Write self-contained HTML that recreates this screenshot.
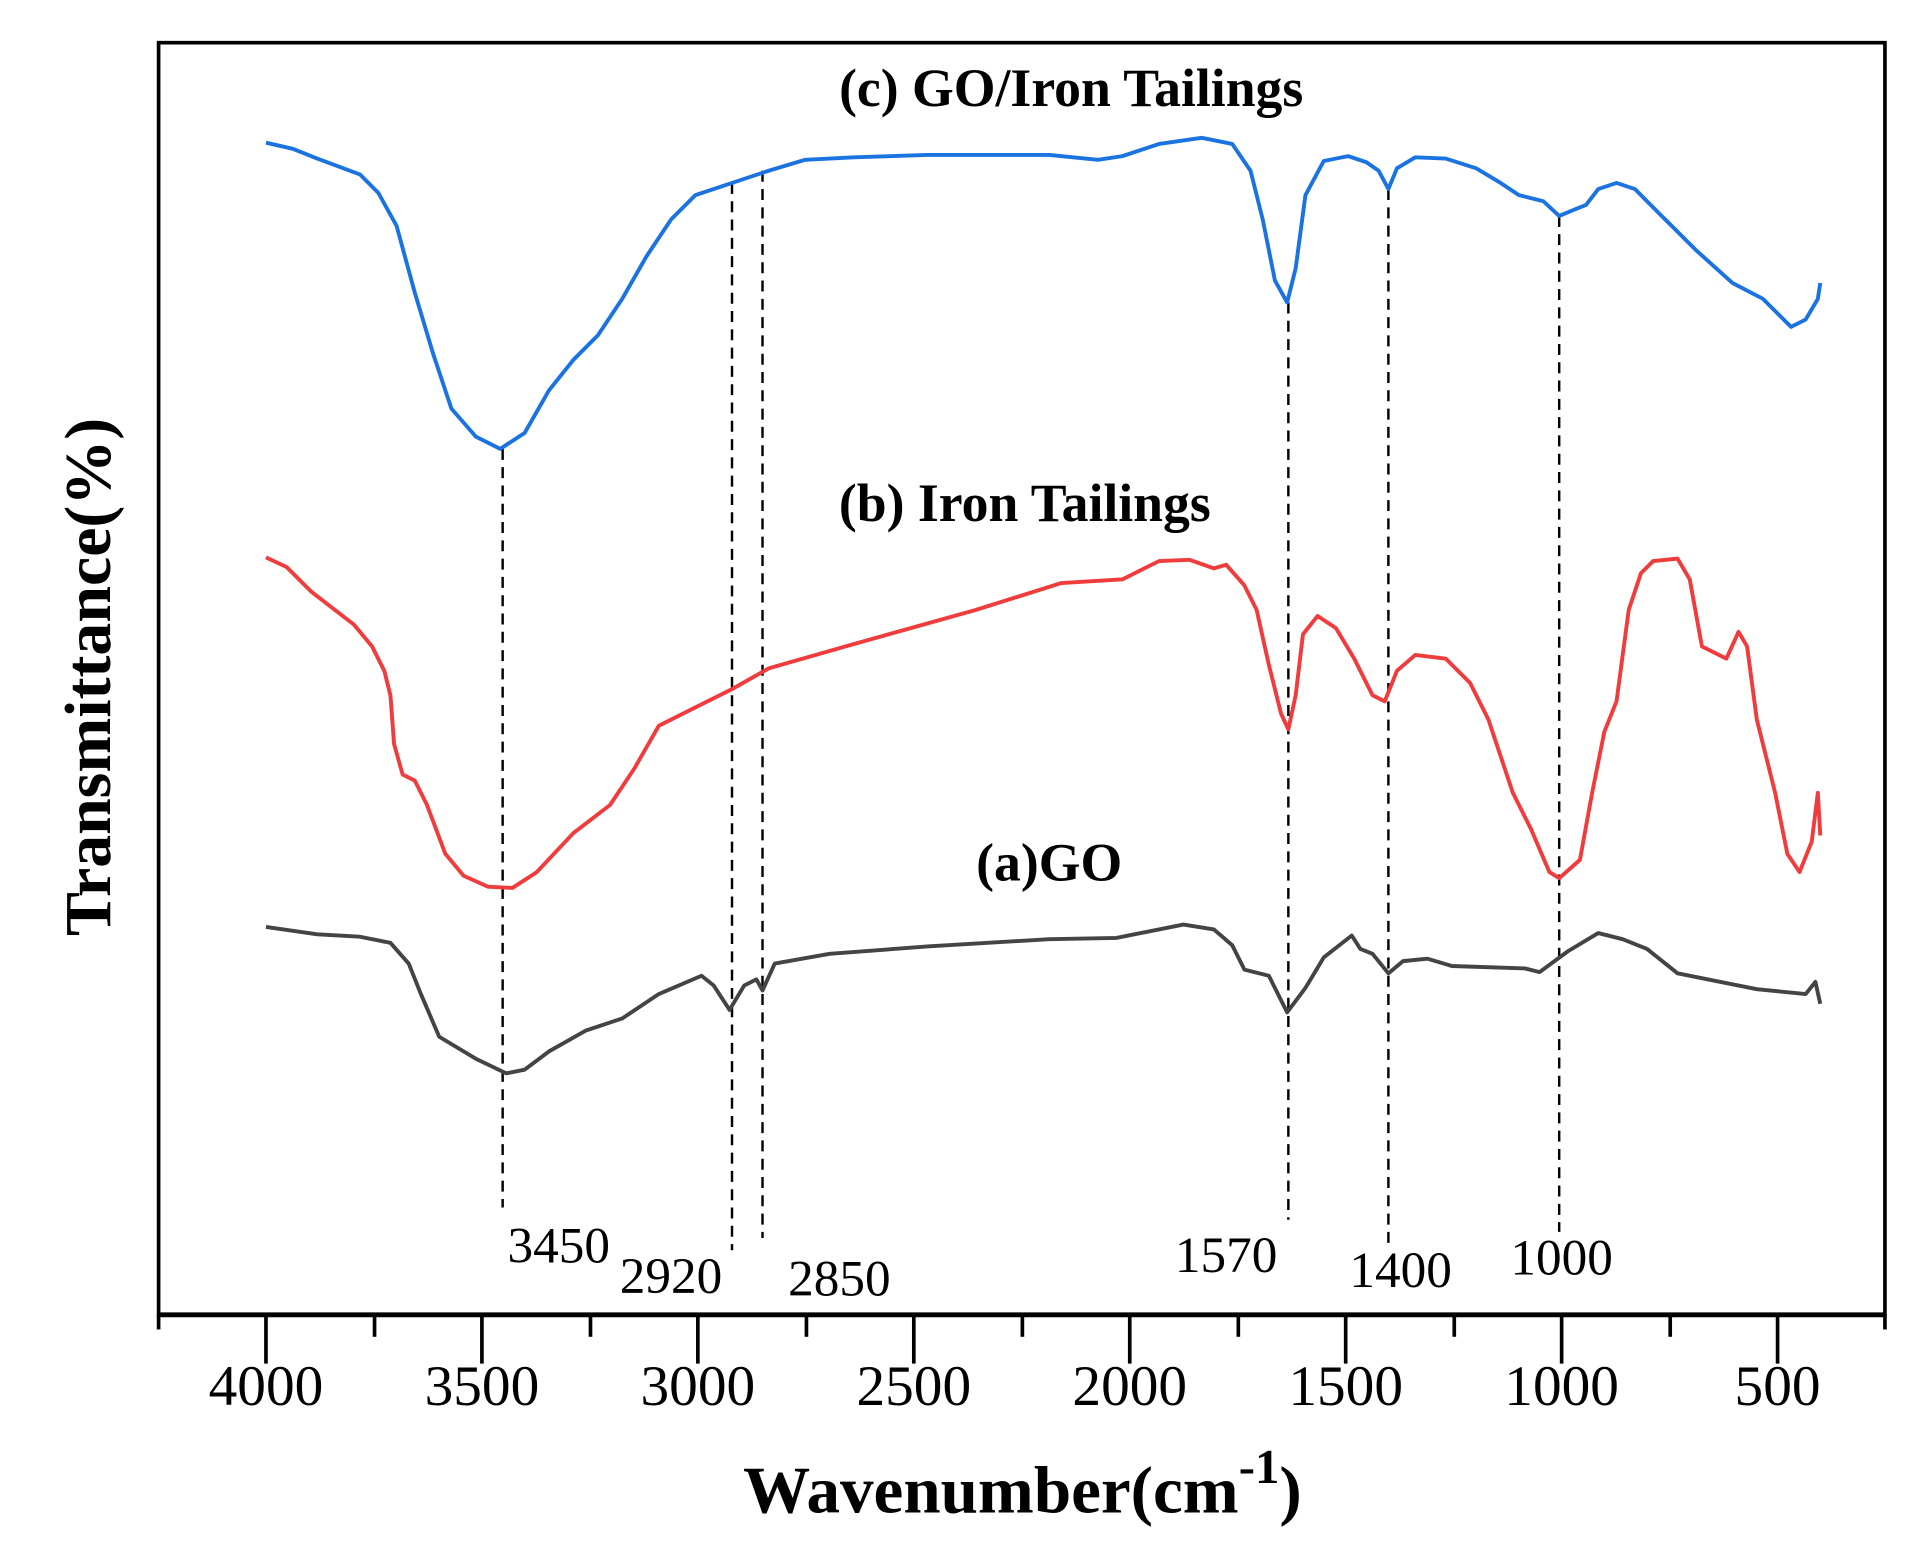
<!DOCTYPE html>
<html><head><style>html,body{margin:0;padding:0;background:#fff}svg{display:block}</style></head><body>
<svg width="1913" height="1560" viewBox="0 0 1568 1279" preserveAspectRatio="none" xmlns="http://www.w3.org/2000/svg" font-family="Liberation Serif, serif">
<rect x="130" y="35" width="1415" height="1043" fill="none" stroke="#000" stroke-width="3"/>
<line x1="130" y1="1078" x2="1546" y2="1078" stroke="#000" stroke-width="4"/>
<g stroke="#000" stroke-width="3">
<line x1="130" y1="1078" x2="130" y2="1090"/>
<line x1="218" y1="1078" x2="218" y2="1118"/><line x1="307" y1="1078" x2="307" y2="1096"/>
<line x1="395" y1="1078" x2="395" y2="1118"/><line x1="484" y1="1078" x2="484" y2="1096"/>
<line x1="572" y1="1078" x2="572" y2="1118"/><line x1="661" y1="1078" x2="661" y2="1096"/>
<line x1="749" y1="1078" x2="749" y2="1118"/><line x1="838" y1="1078" x2="838" y2="1096"/>
<line x1="926" y1="1078" x2="926" y2="1118"/><line x1="1015" y1="1078" x2="1015" y2="1096"/>
<line x1="1103" y1="1078" x2="1103" y2="1118"/><line x1="1192" y1="1078" x2="1192" y2="1096"/>
<line x1="1280" y1="1078" x2="1280" y2="1118"/><line x1="1369" y1="1078" x2="1369" y2="1096"/>
<line x1="1457" y1="1078" x2="1457" y2="1118"/><line x1="1545" y1="1078" x2="1545" y2="1090"/>
</g>
<g font-size="47" text-anchor="middle">
<text x="218" y="1152">4000</text><text x="395" y="1152">3500</text><text x="572" y="1152">3000</text>
<text x="749" y="1152">2500</text><text x="926" y="1152">2000</text><text x="1103" y="1152">1500</text>
<text x="1280" y="1152">1000</text><text x="1457" y="1152">500</text>
</g>
<text x="838" y="1240" font-size="55" font-weight="bold" text-anchor="middle">Wavenumber(cm<tspan dy="-24" font-size="40">-1</tspan><tspan dy="24">)</tspan></text>
<text transform="translate(90,555) rotate(-90)" font-size="54" font-weight="bold" text-anchor="middle">Transmittance(%)</text>
<g font-size="44" font-weight="bold" text-anchor="middle">
<text x="878" y="87">(c) GO/Iron Tailings</text>
<text x="840" y="427">(b) Iron Tailings</text>
<text x="860" y="722">(a)GO</text>
</g>
<g stroke="#000" stroke-width="2" stroke-dasharray="9,6" fill="none">
<line x1="412" y1="368" x2="412" y2="990"/><line x1="600" y1="150" x2="600" y2="1025"/>
<line x1="625" y1="140" x2="625" y2="1015"/><line x1="1056" y1="248" x2="1056" y2="1000"/>
<line x1="1138" y1="155" x2="1138" y2="1020"/><line x1="1278" y1="177" x2="1278" y2="1010"/>
</g>
<g font-size="42" text-anchor="middle">
<text x="458" y="1035">3450</text><text x="550" y="1060">2920</text><text x="688" y="1062">2850</text>
<text x="1005" y="1043">1570</text><text x="1148" y="1055">1400</text><text x="1280" y="1045">1000</text>
</g>
<g fill="none" stroke-width="3.2" stroke-linejoin="round">
<polyline stroke="#1a73e0" points="218,117 240,122 260,130 295,143 310,158 325,185 340,240 355,290 370,335 390,358 410,368 430,355 450,320 470,295 490,275 510,245 530,210 550,180 570,160 600,150 630,140 660,131 700,129 760,127 860,127 900,131 920,128 950,118 985,113 1010,118 1025,140 1035,180 1045,230 1055,248 1062,220 1070,160 1085,132 1105,128 1120,133 1130,140 1138,155 1145,138 1160,129 1185,130 1210,138 1230,150 1245,160 1265,165 1278,177 1290,172 1300,168 1310,155 1325,150 1340,155 1360,175 1390,205 1420,232 1445,245 1468,268 1480,262 1490,245 1492,232"/>
<polyline stroke="#f03c3c" points="218,457 235,465 255,485 290,512 305,530 315,550 320,570 323,610 330,635 340,640 350,660 365,700 380,718 400,727 420,728 440,715 470,683 500,660 520,630 540,595 570,580 600,565 630,548 700,528 800,500 870,478 920,475 950,460 975,459 995,466 1005,463 1020,480 1030,500 1040,545 1050,585 1056,598 1062,570 1068,520 1080,505 1095,515 1110,540 1125,570 1135,575 1145,550 1160,537 1185,540 1205,560 1220,590 1240,650 1255,680 1270,715 1278,720 1295,705 1305,650 1315,600 1325,575 1335,500 1345,470 1355,460 1375,458 1385,475 1395,530 1405,535 1415,540 1425,518 1432,530 1440,590 1455,650 1465,700 1475,715 1485,690 1490,650 1492,685"/>
<polyline stroke="#444" points="218,760 260,766 295,768 320,773 335,790 345,815 360,850 390,868 415,880 430,877 450,862 480,845 510,835 540,815 575,800 585,808 598,828 610,808 620,803 625,812 635,790 680,782 760,776 860,770 915,769 950,762 970,758 995,762 1010,775 1020,795 1040,800 1055,830 1070,810 1085,785 1108,767 1115,778 1125,782 1138,798 1150,788 1170,786 1190,792 1250,794 1262,797 1285,780 1310,765 1330,770 1350,778 1375,798 1400,803 1440,811 1480,815 1488,805 1492,823"/>
</g>
</svg>
</body></html>
